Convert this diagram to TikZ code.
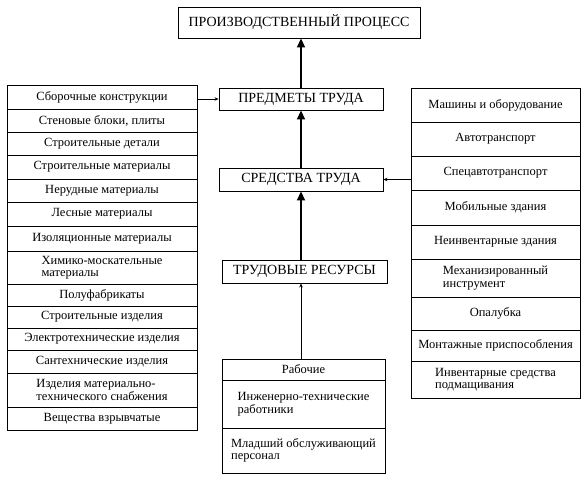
\documentclass[tikz,border=0pt]{standalone}
\usepackage{fontspec}
\setmainfont{Liberation Serif}
\usetikzlibrary{arrows.meta}
\tikzset{
  cell/.style={draw, line width=0.8pt, inner sep=1pt, font=\fontsize{12.5}{12.5}\selectfont, align=center},
  cellL/.style={cell, align=left},
  bigbox/.style={draw, line width=0.9pt, inner sep=1pt, font=\fontsize{14}{14}\selectfont},
  thickarrow/.style={line width=1.8pt, -{Triangle[length=9pt,width=8pt]}},
  thinarrow/.style={line width=0.6pt, -{Stealth[length=4pt,width=3.5pt]}},
}
\begin{document}
\begin{tikzpicture}[x=1pt,y=-1pt]
\useasboundingbox (0,0) rectangle (585,480);
% helper macro for cells: #1 name, #2 x1, #3 x2, #4 y1, #5 y2, #6 style, #7 text
\newcommand{\mycell}[7]{%
  \node[#6, minimum width={#3-#2}, minimum height={#5-#4}] (#1) at ({(#2+#3)/2},{(#4+#5)/2}) {#7};}
% top
\mycell{top}{178}{420}{7}{38}{bigbox}{ПРОИЗВОДСТВЕННЫЙ ПРОЦЕСС}
% center
\mycell{pr}{219}{383}{88}{110}{bigbox}{ПРЕДМЕТЫ ТРУДА}
\mycell{sr}{219}{383}{168}{191}{bigbox}{СРЕДСТВА ТРУДА}
\mycell{tr}{222}{387}{260}{283}{bigbox}{ТРУДОВЫЕ РЕСУРСЫ}
% bottom box
\mycell{b1}{222}{385}{359}{380}{cell}{Рабочие}
\mycell{b2}{222}{385}{380}{428}{cellL}{Инженерно-технические\\работники}
\mycell{b3}{222}{385}{428}{473}{cellL}{Младший обслуживающий\\персонал}
% left column
\mycell{l1}{7}{197}{85}{109}{cell}{Сборочные конструкции}
\mycell{l2}{7}{197}{109}{132}{cell}{Стеновые блоки, плиты}
\mycell{l3}{7}{197}{132}{155}{cell}{Строительные детали}
\mycell{l4}{7}{197}{155}{179}{cell}{Строительные материалы}
\mycell{l5}{7}{197}{179}{202}{cell}{Нерудные материалы}
\mycell{l6}{7}{197}{202}{226}{cell}{Лесные материалы}
\mycell{l7}{7}{197}{226}{251}{cell}{Изоляционные материалы}
\mycell{l8}{7}{197}{251}{284}{cellL}{Химико-москательные\\материалы}
\mycell{l9}{7}{197}{284}{306}{cell}{Полуфабрикаты}
\mycell{l10}{7}{197}{306}{328}{cell}{Строительные изделия}
\mycell{l11}{7}{197}{328}{350}{cell}{Электротехнические изделия}
\mycell{l12}{7}{197}{350}{373}{cell}{Сантехнические изделия}
\mycell{l13}{7}{197}{373}{407}{cellL}{Изделия материально-\\технического снабжения}
\mycell{l14}{7}{197}{407}{430}{cell}{Вещества взрывчатые}
% right column
\mycell{r1}{411}{580}{88}{122}{cell}{Машины и оборудование}
\mycell{r2}{411}{580}{122}{156}{cell}{Автотранспорт}
\mycell{r3}{411}{580}{156}{190}{cell}{Спецавтотранспорт}
\mycell{r4}{411}{580}{190}{225}{cell}{Мобильные здания}
\mycell{r5}{411}{580}{225}{259}{cell}{Неинвентарные здания}
\mycell{r6}{411}{580}{259}{297}{cellL}{Механизированный\\инструмент}
\mycell{r7}{411}{580}{297}{330}{cell}{Опалубка}
\mycell{r8}{411}{580}{330}{361}{cell}{Монтажные приспособления}
\mycell{r9}{411}{580}{361}{398}{cellL}{Инвентарные средства\\подмащивания}
% arrows
\draw[thickarrow] (pr.north) -- (top.south -| pr.north);
\draw[thickarrow] (sr.north) -- (pr.south);
\draw[thickarrow] (tr.north -| sr.north) -- (sr.south);
\draw[thinarrow] (b1.north -| pr.south) -- (tr.south -| pr.south);
\draw[thinarrow] (l1.east |- pr.west) -- (pr.west);
\draw[thinarrow] (r3.west |- sr.east) -- (sr.east);
\end{tikzpicture}
\end{document}
